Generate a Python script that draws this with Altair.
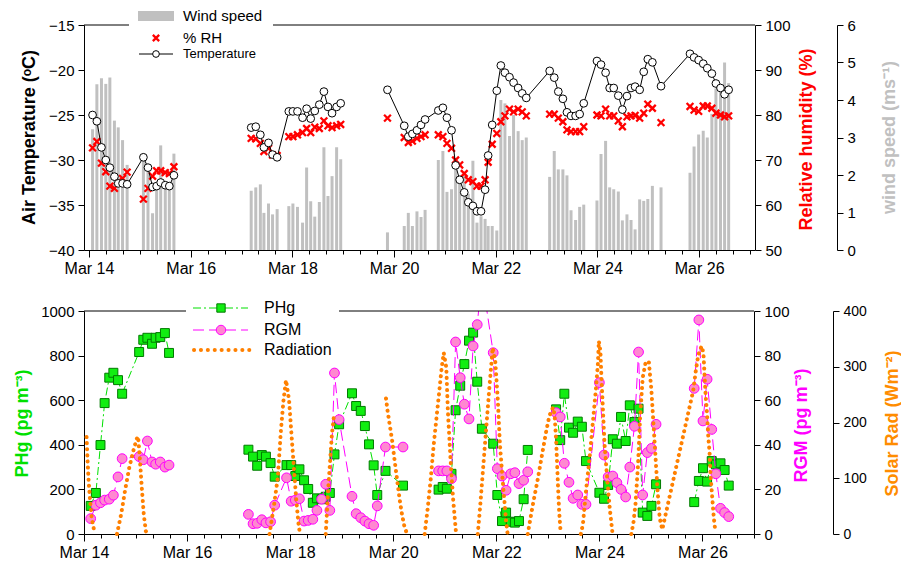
import altair as alt
import numpy as np
import pandas as pd

# ---------------- top panel (2-hourly met data), x = days since Mar 14 00:00
T_DAY = [0.07, 0.155, 0.245, 0.33, 0.41, 0.50, 0.575, 0.66, 0.75,
         1.07, 1.16, 1.25, 1.33, 1.41, 1.50, 1.58, 1.67,
         3.19, 3.28, 3.37, 3.44, 3.53, 3.61, 3.70, 3.93, 4.01, 4.10, 4.20, 4.28, 4.36, 4.44,
         4.53, 4.62, 4.70, 4.78, 4.87, 4.95,
         5.87, 6.20, 6.28, 6.36, 6.45, 6.53, 6.61,
         6.87, 6.96, 7.04, 7.13, 7.21, 7.29, 7.38, 7.46, 7.55, 7.63, 7.71, 7.79, 7.85, 7.93,
         8.02, 8.10, 8.18, 8.27, 8.35, 8.44, 8.52, 8.60,
         9.06, 9.15, 9.23, 9.32, 9.40, 9.48, 9.57, 9.65, 9.73,
         9.99, 10.07, 10.16, 10.24, 10.32, 10.41, 10.49, 10.58, 10.66, 10.74, 10.83, 10.91,
         10.99, 11.08, 11.25,
         11.82, 11.90, 11.99, 12.08, 12.16, 12.25, 12.33, 12.42, 12.50, 12.58]
WIND = [3.22, 4.42, 4.58, 4.43, 4.60, 3.45, 3.27, 2.93, 2.27,
        2.58, 2.19, 0.98, 1.68, 2.79, 1.65, 1.69, 2.57,
        1.58, 1.67, 1.75, 0.99, 1.24, 0.95, 1.09, 1.17, 1.24, 1.15, 0.73, 2.20, 1.30, 0.89,
        1.28, 2.74, 1.44, 1.97, 2.74, 2.42,
        0.47, 0.64, 0.99, 0.64, 1.03, 0.88, 1.07,
        2.40, 2.64, 1.55, 1.62, 2.30, 1.90, 2.00, 1.50, 2.38, 0.73, 0.90, 0.83, 0.64, 0.64,
        0.52, 4.00, 3.91, 3.04, 3.60, 3.17, 2.93, 3.00,
        1.95, 2.64, 2.15, 2.15, 1.99, 1.06, 0.80, 1.15, 1.21,
        1.32, 2.56, 2.91, 1.67, 1.62, 1.56, 0.79, 0.95, 0.80, 0.55, 1.35, 1.31,
        1.36, 1.71, 1.67,
        2.06, 2.76, 3.08, 3.18, 3.00, 3.63, 4.31, 4.27, 5.00, 4.45]
RH = [72.7, 74.1, 69.3, 67.4, 64.2, 63.7, 65.2, 65.9, 67.3,
      61.3, 63.7, 66.4, 67.6, 67.6, 67.2, 67.0, 68.5,
      74.8, 74.7, 73.7, 71.9, 72.6, 71.1, 71.0, 75.2, 75.2, 75.6, 76.1, 77.0, 76.1, 77.3,
      77.0, 78.7, 77.6, 77.2, 77.6, 77.9,
      79.3, 75.0, 73.9, 74.2, 74.8, 75.2, 75.6,
      75.6, 75.2, 73.7, 72.6, 70.0, 68.9, 67.0, 65.6, 65.2, 64.2, 64.2, 65.6, 69.5, 73.5,
      75.9, 78.5, 79.8, 81.3, 80.7, 81.3, 80.7, 79.8,
      80.2, 80.2, 79.3, 78.5, 76.7, 76.3, 76.3, 76.3, 77.4,
      80.0, 79.8, 81.3, 79.8, 79.8, 78.7, 77.4, 79.6, 79.8, 79.9, 79.3, 80.4,
      82.4, 81.5, 78.3,
      81.9, 81.1, 80.8, 82.0, 82.0, 81.5, 80.4, 80.0, 79.6, 79.8]
TEMP = [-25.0, -25.7, -28.6, -30.0, -30.85, -31.85, -32.6, -32.6, -32.7,
        -29.7, -30.85, -33.0, -32.9, -32.5, -32.8, -32.9, -31.7,
        -26.4, -26.3, -27.2, -28.6, -28.1, -29.4, -29.7, -24.6, -24.6, -24.6, -25.3, -24.3, -25.4, -24.55,
        -23.85, -22.4, -24.1, -24.8, -24.1, -23.7,
        -22.2, -26.2, -27.4, -27.1, -26.7, -26.1, -25.5,
        -24.5, -24.2, -25.3, -26.7, -30.6, -32.2, -33.6, -34.7, -35.1, -35.7, -35.7, -33.3, -29.5, -26.1,
        -22.3, -19.5, -20.3, -20.8, -21.4, -22.0, -22.6, -23.1,
        -20.1, -20.85, -22.4, -23.2, -24.7, -25.1, -25.1, -24.9, -23.7,
        -19.0, -19.4, -20.3, -22.0, -22.0, -22.85, -24.4, -22.9, -22.0, -21.85, -22.2, -20.2,
        -18.8, -19.15, -21.8,
        -18.2, -18.6, -18.9, -19.3, -19.8, -20.4, -21.5, -22.0, -22.7, -22.2]

# ---------------- bottom panel (mercury species and solar radiation)
HG_DAY = [0.13, 0.23, 0.32, 0.40, 0.49, 0.57, 0.66, 0.74, 1.07, 1.15, 1.23, 1.32, 1.39, 1.48, 1.57, 1.65,
          3.19, 3.28, 3.36, 3.45, 3.53, 3.62, 3.70, 3.93, 4.02, 4.10, 4.18, 4.27, 4.35, 4.44, 4.52,
          4.61, 4.69, 4.77, 4.86, 4.95, 5.20, 5.28, 5.37, 5.45, 5.53, 5.62, 5.69, 5.85, 6.19,
          6.88, 6.96, 7.04, 7.13, 7.21, 7.30, 7.38, 7.47, 7.55, 7.63, 7.72, 7.94, 8.02, 8.11, 8.19,
          8.28, 8.36, 8.44, 8.53, 8.61,
          9.16, 9.24, 9.32, 9.41, 9.49, 9.58, 9.66, 9.74, 10.00, 10.09, 10.17, 10.26, 10.34, 10.42,
          10.51, 10.59, 10.68, 10.76, 10.84, 10.93, 11.01, 11.10,
          11.84, 11.93, 12.01, 12.09, 12.18, 12.26, 12.35, 12.43, 12.51]
PHG = [126, 184, 399, 587, 701, 723, 690, 629, 816, 871, 880, 853, 880, 883, 901, 812,
       378, 347, 306, 354, 347, 318, 257, 309, 309, 260, 290, 241, 202, 140, 160,
       156, 167, 184, 357, 492, 631, 574, 552, 484, 402, 308, 175, 283, 217,
       199, 211, 203, 270, 555, 665, 762, 867, 903, 683, 472, 405, 175, 58, 96,
       55, 51, 58, 156, 377,
       559, 421, 629, 477, 454, 504, 481, 327, 185, 158, 220, 425, 405, 525,
       417, 577, 502, 562, 96, 81, 126, 223,
       143, 238, 295, 235, 327, 312, 317, 287, 217]
RGM = [6.9, 12.9, 14.0, 15.2, 15.6, 17.4, 25.6, 33.8, 34.7, 33.3, 41.7, 32.3, 31.3, 32.3, 30.0, 30.9,
       8.8, 4.6, 4.8, 6.4, 5.0, 5.5, 12.9, 25.2, 14.7, 15.2, 15.8, 5.8, 6.1, 6.6, 10.6,
       15.6, 22.3, 10.6, 72.2, 51.3, 16.9, 9.1, 7.3, 5.8, 4.6, 3.9, 12.6, 39.0, 39.0,
       28.3, 28.3, 28.3, 24.8, 86.1, 70.1, 58.2, 51.6, 84.3, 93.9, 115.0, 81.3, 29.3, 26.0, 19.6,
       27.0, 27.5, 22.6, 24.1, 27.9,
       54.4, 52.5, 31.7, 23.2, 16.0, 17.5, 13.3, 13.3, 67.9, 35.4, 25.6, 26.0, 23.0, 20.0,
       16.6, 30.0, 48.3, 81.6, 17.5, 36.5, 38.4, 49.2,
       65.3, 96.0, 50.7, 69.4, 46.9, 27.0, 11.5, 9.6, 7.8]

RAD_DAY = [0.05, 0.07, 0.09, 0.12, 0.15, 0.21,
           0.64, 0.72, 0.80, 0.88, 0.96, 1.02, 1.05, 1.08, 1.12, 1.16, 1.20, 1.23,
           3.60, 3.69, 3.76, 3.82, 3.87, 3.92, 3.98, 4.03, 4.08, 4.12, 4.16, 4.19,
           4.69, 4.74, 4.78, 4.81, 4.85,
           5.86, 5.89, 5.94, 5.98, 6.02, 6.07, 6.12, 6.17, 6.22, 6.27,
           6.61, 6.67, 6.73, 6.78, 6.84, 6.90, 6.94, 6.98, 7.03, 7.06, 7.11, 7.16, 7.21, 7.22,
           7.64, 7.69, 7.74, 7.80, 7.87, 7.93, 7.98, 8.03, 8.07, 8.13, 8.19, 8.22,
           8.61, 8.71, 8.81, 8.90, 8.97, 9.03, 9.10, 9.13, 9.16, 9.18, 9.20, 9.22, 9.25,
           9.64, 9.68, 9.74, 9.81, 9.87, 9.93, 9.97, 9.99, 10.02, 10.04, 10.07, 10.10, 10.15, 10.20, 10.25,
           10.62, 10.66, 10.70, 10.75, 10.79, 10.84, 10.90, 10.96, 11.01, 11.05, 11.09, 11.13, 11.17, 11.22,
           11.82, 11.87, 11.91, 11.95, 11.99, 12.02, 12.04, 12.06, 12.09, 12.11, 12.14, 12.16, 12.19, 12.22, 12.25]
RAD = [174, 130, 95, 58, 28, 0,
       0, 35, 80, 120, 150, 170, 175, 140, 85, 35, 5, 0,
       0, 54, 101, 185, 239, 276, 239, 173, 110, 60, 20, 0,
       0, 83, 137, 179, 212,
       243, 221, 191, 167, 137, 101, 65, 35, 12, 0,
       0, 47, 101, 155, 209, 262, 298, 325, 298, 221, 137, 65, 11, 0,
       0, 53, 113, 185, 268, 334, 310, 239, 161, 89, 23, 0,
       0, 53, 101, 149, 185, 212, 227, 215, 170, 125, 80, 40, 0,
       0, 17, 77, 137, 197, 257, 304, 346, 328, 280, 221, 161, 101, 47, 5,
       0, 20, 53, 125, 209, 280, 309, 309, 257, 197, 137, 77, 29, 8,
       257, 292, 316, 331, 337, 322, 286, 251, 215, 179, 143, 101, 65, 29, 5]

top_df = pd.DataFrame({"day": T_DAY, "wind": WIND, "rh": RH, "temp": TEMP})
top_df["seg"] = np.searchsorted([2.5, 5.4], top_df["day"])
hg_df = pd.DataFrame({"day": HG_DAY, "phg": PHG, "rgm": RGM})
hg_df["seg"] = np.searchsorted([2.5, 6.5, 8.9, 11.5], hg_df["day"])
rad_df = pd.DataFrame({"day": RAD_DAY, "rad": RAD})
rad_df["seg"] = np.searchsorted([0.4, 2.0, 4.4, 5.3, 6.45, 7.4, 8.4, 9.45, 10.45], rad_df["day"])
one = pd.DataFrame({"k": [0]})

FONT = "Liberation Sans"
TW, TH = 671, 225
BW, BH = 670, 223
XMARK = "M-1,-1L1,1M-1,1L1,-1"

EVEN = "abs(datum.value/2 - round(datum.value/2)) < 0.01"
xaxis = alt.Axis(values=[i / 3 for i in range(40)],
                 labelExpr=EVEN + " ? 'Mar ' + (14 + round(datum.value)) : ''",
                 tickSize={"condition": {"test": EVEN, "value": 7}, "value": 4},
                 labelOverlap=False, labelFlush=False, title=None, labelFontSize=16,
                 labelPadding=3, grid=False)
xscale = alt.Scale(domain=[0, 13], nice=False, zero=False)
X = alt.X("day:Q", scale=xscale, axis=xaxis)


def yaxis(orient, vals, title, color, tx, ty, offset=0, lsize=15):
    return alt.Axis(orient=orient, values=vals, title=title, titleColor=color,
                    titleFontSize=18, titleFontWeight="bold", titleAngle=270,
                    titleAlign="center", titleBaseline="middle", titleX=tx, titleY=ty,
                    offset=offset, labelFontSize=lsize, tickSize=6, labelPadding=4,
                    grid=False, format="d")


# ---------------- top panel
wind_axis = yaxis("right", [0, 1, 2, 3, 4, 5, 6], "wind speed (ms\u207b\u00b9)", "#c0c0c0", 52, 112, offset=82)
rh_axis = yaxis("right", [50, 60, 70, 80, 90, 100], "Relative humidity (%)", "#ff0000", 51, 114)
t_axis = yaxis("left", [-40, -35, -30, -25, -20, -15], "Air Temperature (\u1d52C)", "black", -55, 112)

bars = alt.Chart(top_df).mark_bar(size=3, color="#c0c0c0").encode(
    x=X, y=alt.Y("wind:Q", scale=alt.Scale(domain=[0, 6], nice=False), axis=wind_axis))
rh = alt.Chart(top_df).mark_point(shape=XMARK, filled=False, stroke="#ff0000", strokeWidth=2.3,
                                  size=46, opacity=1).encode(
    x=X, y=alt.Y("rh:Q", scale=alt.Scale(domain=[50, 100], nice=False, zero=False), axis=rh_axis))
YT = alt.Y("temp:Q", scale=alt.Scale(domain=[-40, -15], nice=False, zero=False), axis=t_axis)
tline = alt.Chart(top_df).mark_line(color="black", strokeWidth=1).encode(x=X, y=YT, detail="seg:N")
tpts = alt.Chart(top_df).mark_point(shape="circle", filled=True, fill="white", stroke="black",
                                    strokeWidth=1, size=60, opacity=1).encode(x=X, y=YT)
temp = alt.layer(tline, tpts)

L = alt.Chart(one)
top_leg = [
    L.mark_rule(color="black", strokeWidth=1).encode(x=alt.value(0), x2=alt.value(45), y=alt.value(0)),
    L.mark_rule(color="black", strokeWidth=1).encode(x=alt.value(189), x2=alt.value(TW), y=alt.value(0)),
    L.mark_rect(color="#c0c0c0").encode(x=alt.value(54), x2=alt.value(90), y=alt.value(-14), y2=alt.value(-4)),
    L.mark_text(text="Wind speed", fontSize=15, align="left", baseline="middle").encode(x=alt.value(99), y=alt.value(-9)),
    L.mark_point(shape=XMARK, filled=False, stroke="#ff0000", strokeWidth=2.3, size=40, opacity=1).encode(x=alt.value(72), y=alt.value(13)),
    L.mark_text(text="% RH", fontSize=15, align="left", baseline="middle").encode(x=alt.value(99), y=alt.value(13)),
    L.mark_rule(color="black", strokeWidth=1).encode(x=alt.value(55), x2=alt.value(89), y=alt.value(29)),
    L.mark_point(shape="circle", filled=True, fill="white", stroke="black", strokeWidth=1, size=45, opacity=1).encode(x=alt.value(72), y=alt.value(29)),
    L.mark_text(text="Temperature", fontSize=13, align="left", baseline="middle").encode(x=alt.value(99), y=alt.value(29)),
]

top = alt.layer(bars, rh, temp, *top_leg).resolve_scale(y="independent").properties(width=TW, height=TH)

# ---------------- bottom panel
phg_axis = yaxis("left", [0, 200, 400, 600, 800, 1000], "PHg  (pg m\u207b\u00b3)", "#00e000", -62, 112)
rgm_axis = yaxis("right", [0, 20, 40, 60, 80, 100], "RGM (pg m\u207b\u00b3)", "#ff00ff", 47, 114)
sol_axis = yaxis("right", [0, 100, 200, 300, 400], "Solar Rad (Wm\u207b\u00b2)", "#ff8c00", 59, 112, offset=79, lsize=14)

YP = alt.Y("phg:Q", scale=alt.Scale(domain=[0, 1000], nice=False), axis=phg_axis)
pline = alt.Chart(hg_df).mark_line(color="#00e000", strokeWidth=1, strokeDash=[8, 3, 2, 3]).encode(x=X, y=YP, detail="seg:N")
ppts = alt.Chart(hg_df).mark_point(shape="square", filled=True, fill="#11ee11", stroke="#007a00",
                                   strokeWidth=1, size=80, opacity=1).encode(x=X, y=YP)
phg = alt.layer(pline, ppts)

YR = alt.Y("rgm:Q", scale=alt.Scale(domain=[0, 100], nice=False), axis=rgm_axis)
gline = alt.Chart(hg_df).mark_line(color="#ff00ff", strokeWidth=1, strokeDash=[11, 5], clip=True).encode(x=X, y=YR, detail="seg:N")
gpts = alt.Chart(hg_df).mark_point(shape="circle", filled=True, fill="#ff88d0", stroke="#ff00ff",
                                   strokeWidth=1, size=95, opacity=1, clip=True).encode(x=X, y=YR)
rgm = alt.layer(gline, gpts)

rad = alt.Chart(rad_df).mark_line(color="#ff8000", strokeWidth=4, strokeDash=[0.1, 6], strokeCap="round").encode(
    x=X, y=alt.Y("rad:Q", scale=alt.Scale(domain=[0, 400], nice=False), axis=sol_axis), detail="seg:N")

bot_leg = [
    L.mark_rule(color="black", strokeWidth=1).encode(x=alt.value(0), x2=alt.value(102), y=alt.value(0)),
    L.mark_rule(color="black", strokeWidth=1).encode(x=alt.value(255), x2=alt.value(BW), y=alt.value(0)),
    L.mark_rule(color="#00e000", strokeWidth=1, strokeDash=[8, 3, 2, 3]).encode(x=alt.value(109), x2=alt.value(164), y=alt.value(-3)),
    L.mark_point(shape="square", filled=True, fill="#11ee11", stroke="#007a00", strokeWidth=1, size=70, opacity=1).encode(x=alt.value(137), y=alt.value(-3)),
    L.mark_text(text="PHg", fontSize=16, align="left", baseline="middle").encode(x=alt.value(180), y=alt.value(-3)),
    L.mark_rule(color="#ff00ff", strokeWidth=1, strokeDash=[11, 5]).encode(x=alt.value(109), x2=alt.value(164), y=alt.value(19)),
    L.mark_point(shape="circle", filled=True, fill="#ff88d0", stroke="#ff00ff", strokeWidth=1, size=90, opacity=1).encode(x=alt.value(137), y=alt.value(19)),
    L.mark_text(text="RGM", fontSize=16, align="left", baseline="middle").encode(x=alt.value(180), y=alt.value(19)),
    L.mark_rule(color="#ff8000", strokeWidth=4, strokeDash=[0.1, 6.8], strokeCap="round").encode(x=alt.value(110), x2=alt.value(166), y=alt.value(39)),
    L.mark_text(text="Radiation", fontSize=16, align="left", baseline="middle").encode(x=alt.value(180), y=alt.value(39)),
]

bottom = alt.layer(phg, rgm, rad, *bot_leg).resolve_scale(y="independent").properties(width=BW, height=BH)

chart = alt.vconcat(top, bottom, spacing=24).properties(
    padding={"left": 13, "top": 9, "right": 0, "bottom": 0}, background="white"
).configure(font=FONT).configure_view(stroke=None).configure_axis(
    labelFont=FONT, titleFont=FONT, domainColor="black", tickColor="black", labelColor="black",
    domainWidth=1, tickWidth=1
)

chart.save("out.html", embed_options={"renderer": "svg", "actions": False})
